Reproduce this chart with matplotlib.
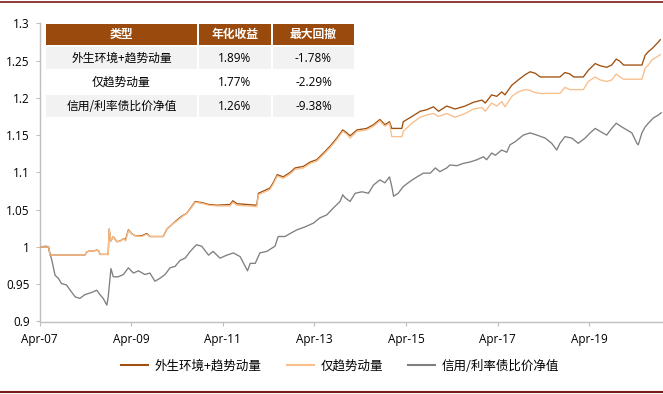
import matplotlib
matplotlib.use("Agg")
import matplotlib.pyplot as plt
from matplotlib.lines import Line2D
import numpy as np

plt.rcParams['font.family'] = ['Noto Sans CJK SC', 'DejaVu Sans']

# ---- data ----
strat_t = [2007.25, 2007.45, 2007.48, 2008.24, 2008.28, 2008.35, 2008.42, 2008.50, 2008.55, 2008.57,
           2008.75, 2008.77, 2008.81, 2008.86, 2008.94, 2009.01, 2009.08, 2009.13, 2009.19, 2009.26,
           2009.34, 2009.48, 2009.59, 2009.66, 2009.95, 2010.03, 2010.14, 2010.25, 2010.35, 2010.46,
           2010.57, 2010.65, 2010.83, 2010.94, 2011.12, 2011.41, 2011.47, 2011.56, 2011.99, 2012.03,
           2012.21, 2012.28, 2012.35, 2012.44, 2012.57, 2012.72, 2012.83, 2013.01, 2013.16, 2013.30,
           2013.45, 2013.59, 2013.74, 2013.87, 2013.96, 2014.03, 2014.18, 2014.39, 2014.54, 2014.68,
           2014.79, 2014.89, 2014.94, 2015.16, 2015.19, 2015.38, 2015.56, 2015.70, 2015.85, 2015.96,
           2016.14, 2016.32, 2016.54, 2016.72, 2016.91, 2016.98, 2017.12, 2017.23, 2017.34, 2017.41,
           2017.56, 2017.70, 2017.85, 2017.96, 2018.07, 2018.18, 2018.61, 2018.72, 2018.83, 2018.91,
           2019.12, 2019.23, 2019.38, 2019.49, 2019.63, 2019.74, 2019.84, 2019.92, 2020.00, 2020.40,
           2020.47, 2020.54, 2020.62, 2020.73, 2020.80]
env_trend = [1.000, 1.000, 0.989, 0.989, 0.993, 0.995, 0.994, 0.996, 0.994, 0.990,
             0.990, 1.024, 1.008, 1.014, 1.007, 1.008, 1.011, 1.010, 1.023, 1.018,
             1.015, 1.015, 1.018, 1.014, 1.014, 1.024, 1.030, 1.036, 1.041, 1.045,
             1.054, 1.061, 1.059, 1.057, 1.056, 1.057, 1.062, 1.058, 1.056, 1.072,
             1.077, 1.079, 1.086, 1.097, 1.094, 1.100, 1.106, 1.108, 1.114, 1.117,
             1.126, 1.135, 1.146, 1.157, 1.153, 1.149, 1.157, 1.159, 1.164, 1.171,
             1.164, 1.168, 1.159, 1.159, 1.168, 1.175, 1.182, 1.184, 1.188, 1.182,
             1.189, 1.185, 1.189, 1.194, 1.197, 1.193, 1.204, 1.202, 1.208, 1.204,
             1.217, 1.224, 1.231, 1.235, 1.233, 1.228, 1.228, 1.234, 1.232, 1.228,
             1.228, 1.237, 1.246, 1.243, 1.241, 1.244, 1.252, 1.249, 1.244, 1.244,
             1.257, 1.262, 1.266, 1.273, 1.278]
trend_only = [1.000, 1.000, 0.989, 0.989, 0.993, 0.995, 0.994, 0.996, 0.994, 0.990,
              0.990, 1.024, 1.008, 1.014, 1.007, 1.008, 1.011, 1.008, 1.022, 1.018,
              1.015, 1.014, 1.017, 1.014, 1.014, 1.024, 1.030, 1.035, 1.040, 1.045,
              1.053, 1.060, 1.058, 1.056, 1.055, 1.055, 1.060, 1.056, 1.054, 1.070,
              1.075, 1.077, 1.084, 1.095, 1.092, 1.098, 1.104, 1.106, 1.112, 1.115,
              1.124, 1.133, 1.144, 1.155, 1.151, 1.146, 1.155, 1.157, 1.162, 1.169,
              1.162, 1.166, 1.148, 1.148, 1.155, 1.166, 1.174, 1.177, 1.179, 1.175,
              1.179, 1.174, 1.179, 1.185, 1.187, 1.182, 1.193, 1.189, 1.195, 1.188,
              1.202, 1.208, 1.211, 1.210, 1.207, 1.206, 1.206, 1.214, 1.211, 1.211,
              1.211, 1.222, 1.228, 1.224, 1.222, 1.224, 1.232, 1.228, 1.225, 1.225,
              1.240, 1.244, 1.251, 1.255, 1.258]

bond_t = [2007.25, 2007.40, 2007.44, 2007.52, 2007.59, 2007.66, 2007.73, 2007.84, 2007.92, 2008.03,
          2008.13, 2008.24, 2008.39, 2008.50, 2008.57, 2008.64, 2008.72, 2008.75, 2008.81, 2008.86,
          2008.97, 2009.08, 2009.19, 2009.30, 2009.41, 2009.55, 2009.66, 2009.77, 2009.88, 2009.99,
          2010.10, 2010.21, 2010.32, 2010.43, 2010.54, 2010.63, 2010.68, 2010.79, 2010.94, 2011.04,
          2011.19, 2011.34, 2011.48, 2011.63, 2011.74, 2011.79, 2011.85, 2011.96, 2012.06, 2012.21,
          2012.39, 2012.46, 2012.61, 2012.72, 2012.87, 2013.05, 2013.23, 2013.37, 2013.52, 2013.66,
          2013.81, 2013.87, 2013.92, 2014.03, 2014.14, 2014.29, 2014.43, 2014.54, 2014.68, 2014.79,
          2014.89, 2014.94, 2014.98, 2015.08, 2015.19, 2015.34, 2015.49, 2015.63, 2015.78, 2015.89,
          2015.99, 2016.14, 2016.21, 2016.36, 2016.50, 2016.65, 2016.80, 2016.94, 2017.01, 2017.12,
          2017.20, 2017.34, 2017.45, 2017.52, 2017.63, 2017.81, 2017.96, 2018.11, 2018.29, 2018.43,
          2018.54, 2018.61, 2018.72, 2018.87, 2019.01, 2019.16, 2019.27, 2019.38, 2019.49, 2019.63,
          2019.74, 2019.84, 2019.96, 2020.07, 2020.18, 2020.29, 2020.32, 2020.40, 2020.47, 2020.54,
          2020.65, 2020.76, 2020.82]
bond_ratio = [1.000, 1.001, 1.000, 0.982, 0.962, 0.958, 0.951, 0.949, 0.942, 0.933,
              0.931, 0.936, 0.939, 0.942, 0.936, 0.931, 0.922, 0.933, 0.971, 0.960,
              0.960, 0.963, 0.972, 0.965, 0.968, 0.963, 0.965, 0.954, 0.958, 0.963,
              0.972, 0.974, 0.982, 0.985, 0.994, 1.000, 1.003, 1.001, 0.989, 0.994,
              0.985, 0.989, 0.992, 0.987, 0.974, 0.968, 0.978, 0.978, 0.992, 0.994,
              1.001, 1.014, 1.014, 1.018, 1.023, 1.027, 1.032, 1.039, 1.043, 1.052,
              1.061, 1.070, 1.066, 1.061, 1.072, 1.074, 1.072, 1.083, 1.090, 1.086,
              1.094, 1.081, 1.068, 1.072, 1.081, 1.088, 1.094, 1.099, 1.099, 1.106,
              1.101, 1.106, 1.110, 1.109, 1.112, 1.114, 1.117, 1.121, 1.117, 1.126,
              1.123, 1.130, 1.127, 1.137, 1.141, 1.150, 1.153, 1.150, 1.146, 1.139,
              1.130, 1.139, 1.148, 1.146, 1.139, 1.146, 1.153, 1.159, 1.155, 1.150,
              1.159, 1.166, 1.161, 1.157, 1.153, 1.139, 1.137, 1.153, 1.161, 1.166,
              1.173, 1.177, 1.180]

series_names = ['外生环境+趋势动量', '仅趋势动量', '信用/利率债比价净值']
table_header = ['类型', '年化收益', '最大回撤']
ann_return = ['1.89%', '1.77%', '1.26%']
max_drawdown = ['-1.78%', '-2.29%', '-9.38%']

tick_years = [2007.25, 2009.25, 2011.25, 2013.25, 2015.25, 2017.25, 2019.25]
tick_labels = ['Apr-07', 'Apr-09', 'Apr-11', 'Apr-13', 'Apr-15', 'Apr-17', 'Apr-19']
y_ticks = [0.9, 0.95, 1.0, 1.05, 1.1, 1.15, 1.2, 1.25, 1.3]
y_labels = ['0.9', '0.95', '1', '1.05', '1.1', '1.15', '1.2', '1.25', '1.3']

# ---- styling ----
c_dark = '#A0500F'
c_light = '#F9BE8A'
c_gray = '#7F7F7F'
c_head = '#9A4A0C'
c_border = '#7B1A1A'

W, H = 663, 394
fig = plt.figure(figsize=(W / 100, H / 100), dpi=100)
ax = fig.add_axes([39.5 / W, 1 - 321.5 / H, (W - 39.5) / W, (321.5 - 23.3) / H])

ax.plot(bond_t, bond_ratio, color=c_gray, lw=0.95, zorder=2)
ax.plot(strat_t, env_trend, color=c_dark, lw=0.95, zorder=3)
ax.plot(strat_t, trend_only, color=c_light, lw=0.95, zorder=4)

ax.set_xlim(2007.25, 2020.86)
ax.set_ylim(0.9, 1.3)
ax.set_xticks(tick_years)
ax.set_xticklabels(tick_labels)
ax.set_yticks(y_ticks)
ax.set_yticklabels(y_labels)
for s in ['top', 'right']:
    ax.spines[s].set_visible(False)
for s in ['left', 'bottom']:
    ax.spines[s].set_color('#BFBFBF')
    ax.spines[s].set_linewidth(1.0)
ax.tick_params(axis='both', direction='out', length=3, color='#BFBFBF',
               labelsize=8.5, labelcolor='#000000', pad=4)
ax.tick_params(axis='x', pad=5)
for lab in ax.get_xticklabels() + ax.get_yticklabels():
    lab.set_family(['Open Sans', 'DejaVu Sans'])

# ---- table drawn in figure pixel space ----
def fx(px):
    return px / W

def fy(py):
    return 1 - py / H

cols = [45, 198, 272, 355]
rows = [23, 46, 70, 94, 118]
fills = [c_head, '#F2F2F2', '#FFFFFF', '#F2F2F2']
cells = [table_header] + [[series_names[i], ann_return[i], max_drawdown[i]] for i in range(3)]
for r in range(4):
    for c in range(3):
        x0, x1 = cols[c], cols[c + 1]
        y0, y1 = rows[r], rows[r + 1]
        rect = plt.Rectangle((fx(x0 + 0.75), fy(y1 - 0.75)), fx(x1 - x0 - 1.5), (y1 - y0 - 1.5) / H,
                             transform=fig.transFigure, facecolor=fills[r], edgecolor='none', zorder=5)
        fig.add_artist(rect)
        txt = cells[r][c]
        is_num = r > 0 and c > 0
        fig.text(fx((x0 + x1) / 2), fy((y0 + y1) / 2), txt,
                 ha='center', va='center', fontsize=8.5,
                 color='white' if r == 0 else 'black',
                 fontweight='bold' if r == 0 else 'normal',
                 family=['Open Sans', 'Noto Sans CJK SC'] if is_num else ['Noto Sans CJK SC', 'DejaVu Sans'],
                 zorder=6)

# ---- legend ----
handles = [Line2D([], [], color=c_dark, lw=1.5),
           Line2D([], [], color=c_light, lw=1.5),
           Line2D([], [], color=c_gray, lw=1.5)]
fig.legend(handles, series_names, loc='center', bbox_to_anchor=(fx(340), fy(366)),
           ncol=3, frameon=False, fontsize=9, handlelength=2.2, handletextpad=0.5,
           columnspacing=2.0)

# ---- border lines ----
fig.add_artist(Line2D([0, 1], [fy(1.5), fy(1.5)], transform=fig.transFigure, color=c_border, lw=1.2))
fig.add_artist(Line2D([0, 1], [fy(391.5), fy(391.5)], transform=fig.transFigure, color=c_border, lw=1.5))

fig.savefig('out.png', dpi=100)
